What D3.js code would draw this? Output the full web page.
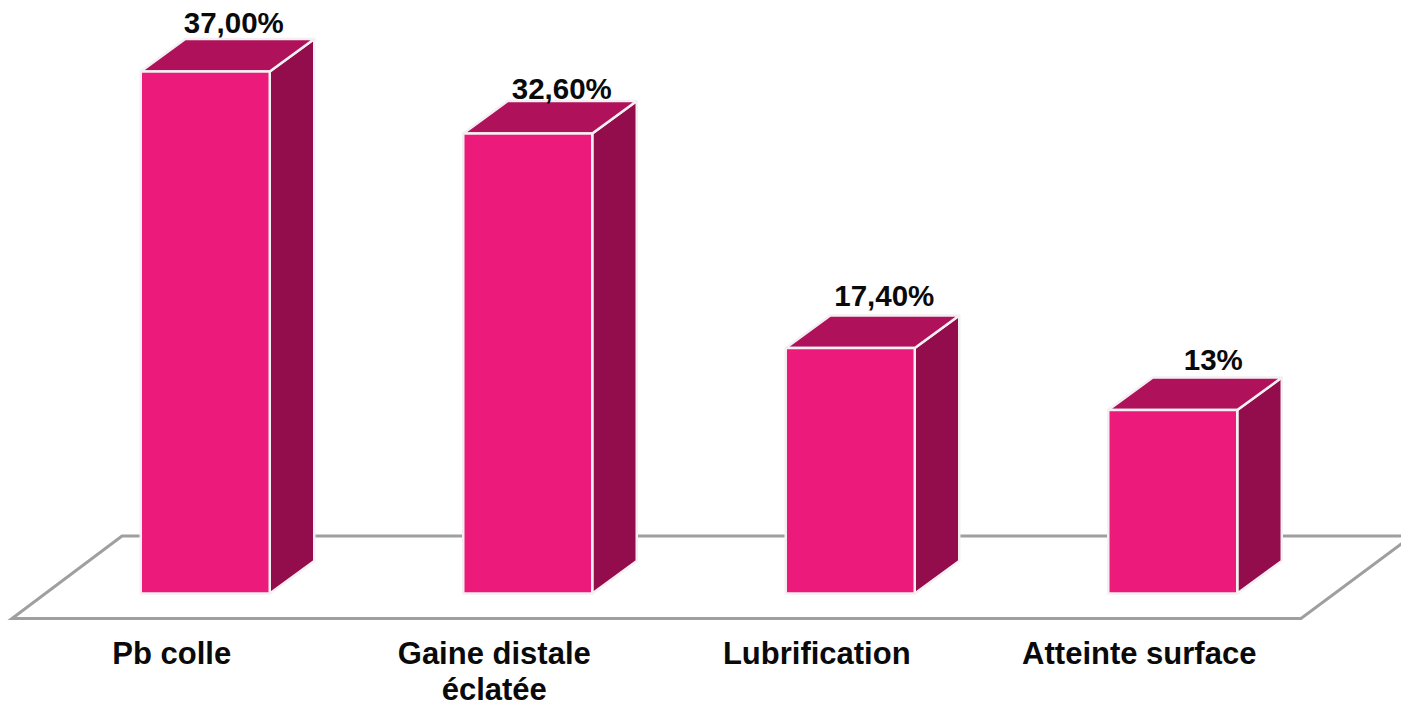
<!DOCTYPE html>
<html>
<head>
<meta charset="utf-8">
<script src="https://d3js.org/d3.v7.min.js"></script>
<style>
html, body { margin: 0; padding: 0; background: #fff; }
svg { display: block; }
text { font-family: "Liberation Sans", Arial, sans-serif; font-weight: bold; fill: #0a0a0a; }
</style>
</head>
<body>
<div id="chart"></div>
<script>
// data
var categories = ["Pb colle", "Gaine distale éclatée", "Lubrification", "Atteinte surface"];
var values = [37.0, 32.6, 17.4, 13.0];
var valueLabels = ["37,00%", "32,60%", "17,40%", "13%"];

// height and width
var svgWidth = 1401;
var svgHeight = 702;

// fake 3d depth of the bars and of the floor
var depthX = 44.5, depthY = 32.5;
var baseY = 593.5;
var floorFront = { left: 12, right: 1301, y: 618.5 };
var floorBack = { left: 122, right: 1412, y: 536 };

var svg = d3.select("#chart")
    .append("svg")
    .attr("width", svgWidth)
    .attr("height", svgHeight);

var x = d3.scaleBand()
    .domain(categories)
    .range([44, 1334])
    .paddingInner(0.6)
    .paddingOuter(0.3);

var y = d3.scaleLinear()
    .domain([0, 37])
    .range([baseY, 71.5]);

// floor
svg.append("path")
    .attr("d", d3.line()([
        [floorFront.left, floorFront.y],
        [floorFront.right, floorFront.y],
        [floorBack.right, floorBack.y],
        [floorBack.left, floorBack.y]
    ]) + "Z")
    .attr("fill", "#fff")
    .attr("stroke", "#9f9f9f")
    .attr("stroke-width", 3);

// bars
var bars = svg.selectAll(".bar")
    .data(categories)
    .enter()
    .append("g")
    .attr("class", "bar");

function faces(name, i) {
    var x0 = x(name), x1 = x0 + x.bandwidth();
    var y0 = y(values[i]), y1 = y(0);
    return {
        front: [[x0, y0], [x1, y0], [x1, y1], [x0, y1]],
        top: [[x0, y0], [x0 + depthX, y0 - depthY], [x1 + depthX, y0 - depthY], [x1, y0]],
        side: [[x1, y0], [x1 + depthX, y0 - depthY], [x1 + depthX, y1 - depthY], [x1, y1]]
    };
}

[["side", "#930d4c"], ["top", "#b0115b"], ["front", "#ec1a7b"]].forEach(function (f) {
    bars.append("polygon")
        .attr("points", (d, i) => faces(d, i)[f[0]].join(" "))
        .attr("fill", f[1])
        .attr("stroke", "#f4f0f2")
        .attr("stroke-width", 2.5)
        .attr("stroke-linejoin", "round");
});

// value labels
var labelShift = [[28.5, -38.5], [34, -35], [34, -42], [40.5, -40]];
svg.selectAll(".value")
    .data(valueLabels)
    .enter()
    .append("text")
    .attr("class", "value")
    .attr("x", (d, i) => x(categories[i]) + x.bandwidth() / 2 + labelShift[i][0])
    .attr("y", (d, i) => y(values[i]) + labelShift[i][1])
    .attr("text-anchor", "middle")
    .style("font-size", "29.5px")
    .text(d => d);

// category axis, labels wrapped by hand on the long one
var axis = svg.append("g")
    .attr("transform", `translate(0, ${floorFront.y})`)
    .call(d3.axisBottom(x).tickSize(0).tickPadding(0));
axis.select(".domain").remove();

axis.selectAll("text")
    .attr("transform", "translate(-33.5, 0)")
    .style("font-size", "31px")
    .attr("dy", null)
    .attr("y", 45)
    .each(function (d) {
        var el = d3.select(this);
        if (d === "Gaine distale éclatée") {
            el.text(null);
            el.append("tspan").attr("x", 0).text("Gaine distale");
            el.append("tspan").attr("x", 0).attr("dy", 36).text("éclatée");
        }
    });
</script>
</body>
</html>
